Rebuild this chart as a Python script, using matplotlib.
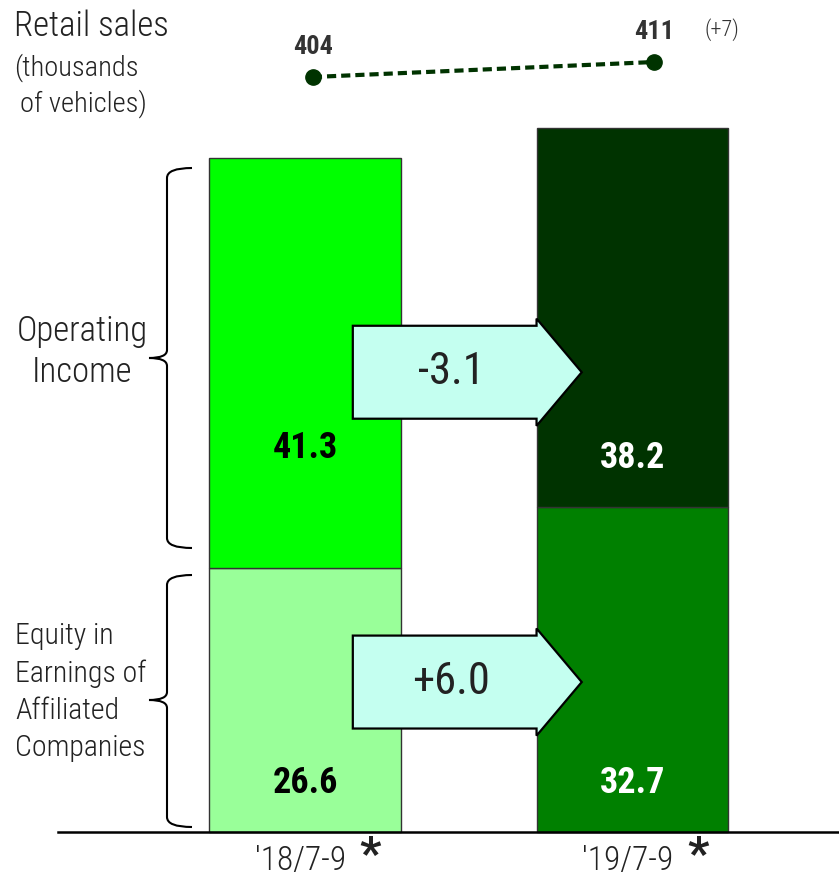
import numpy as np
import matplotlib
matplotlib.use("Agg")
import matplotlib.pyplot as plt
from matplotlib.patches import Polygon, PathPatch
from matplotlib.path import Path

plt.rcParams['font.family'] = ['Roboto Condensed', 'DejaVu Sans']
plt.rcParams['font.weight'] = 'light'

# data
periods = ["′18/7-9", "′19/7-9"]
equity = [26.6, 32.7]
op_income = [41.3, 38.2]
retail = [404, 411]
retail_diff = "(+7)"
changes = ["-3.1", "+6.0"]

eq_colors = ["#99ff99", "#008000"]
op_colors = ["#00ff00", "#003300"]
label_colors = ["black", "white"]
arrow_fill = "#c4fff0"
txt = "#222222"

W, H = 839, 882
fig = plt.figure(figsize=(W / 100, H / 100), dpi=100)
ax = fig.add_axes([0, 0, 1, 1])
ax.axis('off')

# pixel scale: 327.5 px per category, 9.93 px per unit
ax.set_xlim(-305 / 327.5, (W - 305) / 327.5)
ax.set_ylim(-50 / 9.93, (H - 50) / 9.93)


def px(x, y):
    # figure pixel (from top-left) -> axes fraction
    return x / W, 1 - y / H


def ux(p):
    return (p - 305) / 327.5


def uy(p):
    return (832 - p) / 9.93


x = np.arange(len(periods))
bw = 0.586
ax.bar(x, equity, bw, color=eq_colors, edgecolor="#333333", lw=1, zorder=2)
ax.bar(x, op_income, bw, bottom=equity, color=op_colors,
       edgecolor="#333333", lw=1, zorder=2)
ax.axhline(0, xmin=58 / W, xmax=1, color="black", lw=1.8, zorder=3)

# value labels
for i in range(len(x)):
    ax.text(x[i], 4.9, f"{equity[i]:.1f}", ha="center", va="center",
            fontsize=26, fontweight="bold", color=label_colors[i], zorder=4)
    ax.text(x[i], 38.7 - i, f"{op_income[i]:.1f}", ha="center", va="center",
            fontsize=26, fontweight="bold", color=label_colors[i], zorder=4)

# change arrows
x0 = x[0] + bw / 2 - 0.147
x1 = x[1] - bw / 2
xt = x1 + 0.138
for yc, lab in zip([46.3, 15.1], changes):
    hb, hh = 4.68, 5.4
    pts = [(x0, yc - hb), (x1, yc - hb), (x1, yc - hh), (xt, yc),
           (x1, yc + hh), (x1, yc + hb), (x0, yc + hb)]
    ax.add_patch(Polygon(pts, closed=True, fc=arrow_fill, ec="black",
                         lw=1.6, zorder=5))
    ax.text((x0 + x1) / 2 + 0.02, yc, lab, ha="center", va="center",
            fontsize=32, fontweight="normal", color=txt, zorder=6)


def brace(x_tip, x_spine, x_end, y_top, y_bot, y_tip, r=1.0, rt=0.8):
    verts = [(x_end, y_top), (x_spine, y_top), (x_spine, y_top - r),
             (x_spine, y_tip + rt), (x_spine, y_tip), (x_tip, y_tip),
             (x_spine, y_tip), (x_spine, y_tip - rt),
             (x_spine, y_bot + r), (x_spine, y_bot), (x_end, y_bot)]
    codes = [Path.MOVETO, Path.CURVE3, Path.CURVE3, Path.LINETO,
             Path.CURVE3, Path.CURVE3, Path.CURVE3, Path.CURVE3,
             Path.LINETO, Path.CURVE3, Path.CURVE3]
    ax.add_patch(PathPatch(Path(verts, codes), fc="none", ec="black",
                           lw=1.5, zorder=3))


brace(ux(149), ux(167), ux(192), uy(168), uy(548), uy(358))
brace(ux(149), ux(167), ux(192), uy(575), uy(827), uy(700))

# retail sales line (its own x spread is a bit wider than the bars)
ax2 = ax.twinx()
ax2.set_position([0, 0, 1, 1])
ax2.axis('off')
lo = 404 - (H - 77) / 2.143
ax2.set_ylim(lo, lo + H / 2.143)
xl = x * 1.042 + 0.024
ax2.plot(xl, retail, color="#003300", lw=3, ls=(0, (2.2, 1.2)),
         marker="o", ms=11, zorder=5)
for xi, v in zip(xl, retail):
    ax2.annotate(str(v), (xi, v), xytext=(0, 13), textcoords="offset points",
                 ha="center", va="bottom", fontsize=19, fontweight="bold",
                 color="#333333")
ax2.annotate(retail_diff, (xl[-1], retail[-1]), xytext=(49, 15),
             textcoords="offset points", ha="center", va="bottom",
             fontsize=16, color="#333333")

# left side texts
ax.text(*px(14, 26), "Retail sales", transform=ax.transAxes, ha="left",
        va="center", fontsize=25, color=txt)
ax.text(*px(14, 68), "(thousands", transform=ax.transAxes, ha="left",
        va="center", fontsize=20.5, color=txt)
ax.text(*px(20, 104), "of vehicles)", transform=ax.transAxes, ha="left",
        va="center", fontsize=20.5, color=txt)
ax.text(*px(82, 352), "Operating\nIncome", transform=ax.transAxes,
        ha="center", va="center", fontsize=25, color=txt,
        linespacing=1.28)
ax.text(*px(15, 692), "Equity in\nEarnings of\nAffiliated\nCompanies",
        transform=ax.transAxes, ha="left", va="center", fontsize=21.5,
        color=txt, linespacing=1.4)

# period labels
for xi, p in zip(x, periods):
    ax.text(xi - 0.015, -2.9, p, ha="center", va="center", fontsize=24,
            color=txt)
    ax.text(xi + 0.2, -2.4, "*", ha="center", va="center", fontsize=34,
            fontweight="bold", color=txt)

fig.savefig("out.png", dpi=100)
